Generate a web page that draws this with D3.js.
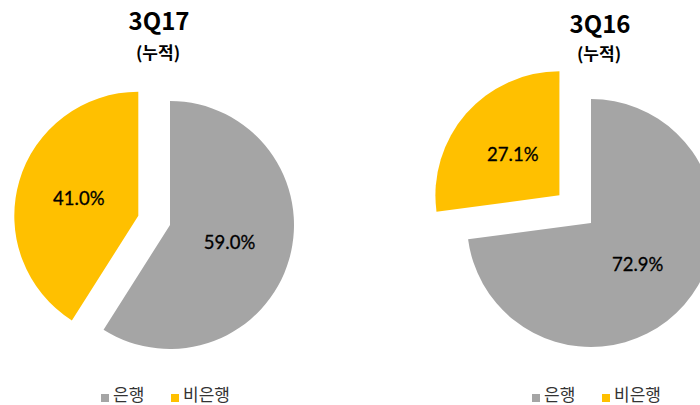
<!DOCTYPE html>
<html>
<head>
<meta charset="utf-8">
<script src="https://cdn.jsdelivr.net/npm/d3@7"></script>
<style>
  html, body { margin: 0; padding: 0; background: #fff; }
  svg { display: block; }
</style>
</head>
<body>
<div id="chart"></div>
<script>
// ---- data ----
const categories = ["은행", "비은행"];
const periods = ["3Q17", "3Q16"];
const subtitle = "(누적)";
const values3Q17 = [59.0, 41.0];
const values3Q16 = [72.9, 27.1];
const colors = ["#A5A5A5", "#FFC000"];

// ---- layout ----
const W = 700, H = 405;
const svg = d3.select("#chart").append("svg").attr("width", W).attr("height", H);

const panels = [
  { title: periods[0], values: values3Q17, cx: 170, cy: 225, r: 124, explode: 33, tx: 159, ty: 30, sy: 59, legendX: 101 },
  { title: periods[1], values: values3Q16, cx: 591, cy: 223, r: 124, explode: 42, tx: 600, ty: 33, sy: 60, legendX: 532 }
];

const pie = d3.pie().sort(null).value(d => d.v).startAngle(0).endAngle(2 * Math.PI);

panels.forEach(p => {
  const data = categories.map((c, i) => ({ c, v: p.values[i], i }));
  const arcs = pie(data);
  const arc = d3.arc().innerRadius(0).outerRadius(p.r);
  const labelArc = d3.arc().innerRadius(p.r * 0.5).outerRadius(p.r * 0.5);
  const g = svg.append("g").attr("transform", `translate(${p.cx},${p.cy})`);

  arcs.forEach(a => {
    const mid = (a.startAngle + a.endAngle) / 2;
    const off = a.data.i === 1 ? p.explode : 0;
    const dx = Math.sin(mid) * off, dy = -Math.cos(mid) * off;
    const sg = g.append("g").attr("transform", `translate(${dx},${dy})`);
    sg.append("path").attr("d", arc(a)).attr("fill", colors[a.data.i]);
    const [lx, ly] = labelArc.centroid(a);
    sg.append("text")
      .attr("x", lx).attr("y", ly)
      .attr("text-anchor", "middle").attr("dominant-baseline", "central")
      .attr("font-family", "'Century Gothic', Lato, sans-serif")
      .attr("font-size", 18.5).attr("fill", "#000")
      .attr("stroke", "#000").attr("stroke-width", 0.3)
      .text(d3.format(".1f")(a.data.v) + "%");
  });

  svg.append("text").attr("x", p.tx).attr("y", p.ty)
    .attr("text-anchor", "middle")
    .attr("font-family", "'Noto Sans CJK KR', sans-serif")
    .attr("font-weight", "bold").attr("font-size", 24).attr("fill", "#000")
    .text(p.title);
  svg.append("text").attr("x", p.tx - 1).attr("y", p.sy)
    .attr("text-anchor", "middle")
    .attr("font-family", "'Noto Sans CJK KR', sans-serif")
    .attr("font-weight", "bold").attr("font-size", 17).attr("fill", "#000")
    .text(subtitle);

  // legend
  const lg = svg.append("g").attr("transform", `translate(${p.legendX},0)`);
  const offsets = [0, 70];
  categories.forEach((c, i) => {
    lg.append("rect").attr("x", offsets[i]).attr("y", 394).attr("width", 8).attr("height", 8).attr("fill", colors[i]);
    lg.append("text").attr("x", offsets[i] + 12).attr("y", 401)
      .attr("font-family", "'Noto Sans CJK KR', sans-serif")
      .attr("font-size", 17).attr("fill", "#333")
      .text(c);
  });
});
</script>
</body>
</html>
